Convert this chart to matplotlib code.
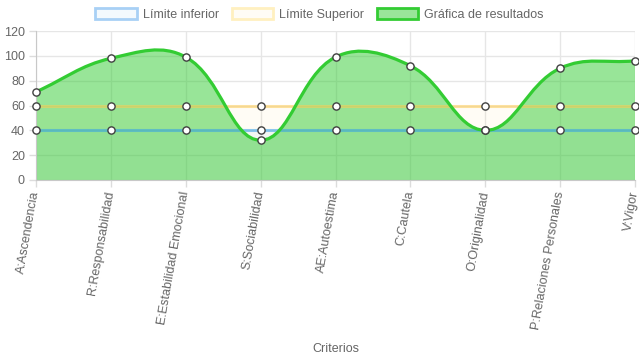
import numpy as np
import matplotlib.pyplot as plt
from matplotlib.path import Path
from matplotlib.patches import PathPatch, Patch

# data
criterios = ['A:Ascendencia', 'R:Responsabilidad', 'E:Estabilidad Emocional',
             'S:Sociabilidad', 'AE:Autoestima', 'C:Cautela', 'O:Originalidad',
             'P:Relaciones Personales', 'V:Vigor']
limite_inferior = [40, 40, 40, 40, 40, 40, 40, 40, 40]
limite_superior = [60, 60, 60, 60, 60, 60, 60, 60, 60]
resultados = [71, 98, 99, 32, 99, 92, 40, 90, 96]

plt.rcParams['font.family'] = ['Liberation Sans', 'DejaVu Sans']
plt.rcParams['font.size'] = 9

fig = plt.figure(figsize=(6.39, 3.6), dpi=100)
ax = fig.add_axes([36/639, 1 - 180/360, 599/639, 149/360])
x = np.arange(len(criterios))
ax.set_xlim(0, len(criterios) - 1)
ax.set_ylim(0, 120)
ax.set_yticks(np.arange(0, 121, 20))
ax.set_xticks(x)
ax.set_xticklabels(criterios, rotation=80, ha='right', va='center', rotation_mode='anchor')
ax.grid(True, color='#e6e6e6', linewidth=1)
ax.set_axisbelow(True)
for s in ['top', 'right']:
    ax.spines[s].set_visible(False)
for s in ['left', 'bottom']:
    ax.spines[s].set_color('#c8c8c8')
ax.tick_params(colors='#666666', length=5, width=1, labelsize=9, pad=3)
ax.tick_params(axis='both', color='#dcdcdc')
ax.set_xlabel('Criterios', color='#666666', fontsize=9, labelpad=9)


def chartjs_curve(xs, ys, tension=0.4):
    # bezier like chart.js, computed in pixel space
    fig.canvas.draw()
    pts = ax.transData.transform(np.column_stack([xs, ys]))
    n = len(pts)
    verts = [pts[0]]
    codes = [Path.MOVETO]
    cps = []
    for i in range(n):
        prev = pts[max(i - 1, 0)]
        cur = pts[i]
        nxt = pts[min(i + 1, n - 1)]
        d01 = np.hypot(*(cur - prev))
        d12 = np.hypot(*(nxt - cur))
        tot = d01 + d12 if d01 + d12 else 1
        fa = tension * d01 / tot
        fb = tension * d12 / tot
        cps.append((cur - fa * (nxt - prev), cur + fb * (nxt - prev)))
    for i in range(n - 1):
        verts += [cps[i][1], cps[i + 1][0], pts[i + 1]]
        codes += [Path.CURVE4] * 3
    verts = ax.transData.inverted().transform(np.array(verts))
    return verts, codes


# limit fills and lines
ax.fill_between(x, 0, limite_inferior, color=(54/255, 162/255, 235/255, 0.06), lw=0, zorder=1)
ax.fill_between(x, 0, limite_superior, color=(255/255, 206/255, 86/255, 0.06), lw=0, zorder=1)

verts, codes = chartjs_curve(x, resultados)
fill_verts = list(verts) + [(x[-1], 0), (x[0], 0), verts[0]]
fill_codes = list(codes) + [Path.LINETO, Path.LINETO, Path.CLOSEPOLY]
ax.add_patch(PathPatch(Path(fill_verts, fill_codes), facecolor=(51/255, 204/255, 51/255, 0.5),
                       edgecolor='none', zorder=2))
ax.plot(x, limite_inferior, color=(54/255, 162/255, 235/255, 0.55), lw=2.2, zorder=3)
ax.plot(x, limite_superior, color=(255/255, 206/255, 86/255, 0.55), lw=2.2, zorder=3)
ax.add_patch(PathPatch(Path(verts, codes), facecolor='none', edgecolor='#33cc33', lw=2.3, zorder=4))

for serie in [limite_inferior, limite_superior, resultados]:
    ax.plot(x, serie, ls='none', marker='o', ms=5.2, mfc='white', mec='#404040', mew=1,
            zorder=5, clip_on=False)

handles = [
    Patch(facecolor=(54/255, 162/255, 235/255, 0.06), edgecolor='#a8d0f5', lw=2),
    Patch(facecolor=(255/255, 206/255, 86/255, 0.06), edgecolor='#fff0c0', lw=2),
    Patch(facecolor='#99e599', edgecolor='#33cc33', lw=2),
]
fig.legend(handles, ['Límite inferior', 'Límite Superior', 'Gráfica de resultados'],
           loc='upper center', bbox_to_anchor=(0.5, 1.008), ncol=3, frameon=False,
           handlelength=3.3, handleheight=0.95, handletextpad=0.5, columnspacing=1.0,
           labelcolor='#666666', fontsize=9)

fig.savefig('out.png', dpi=100)
